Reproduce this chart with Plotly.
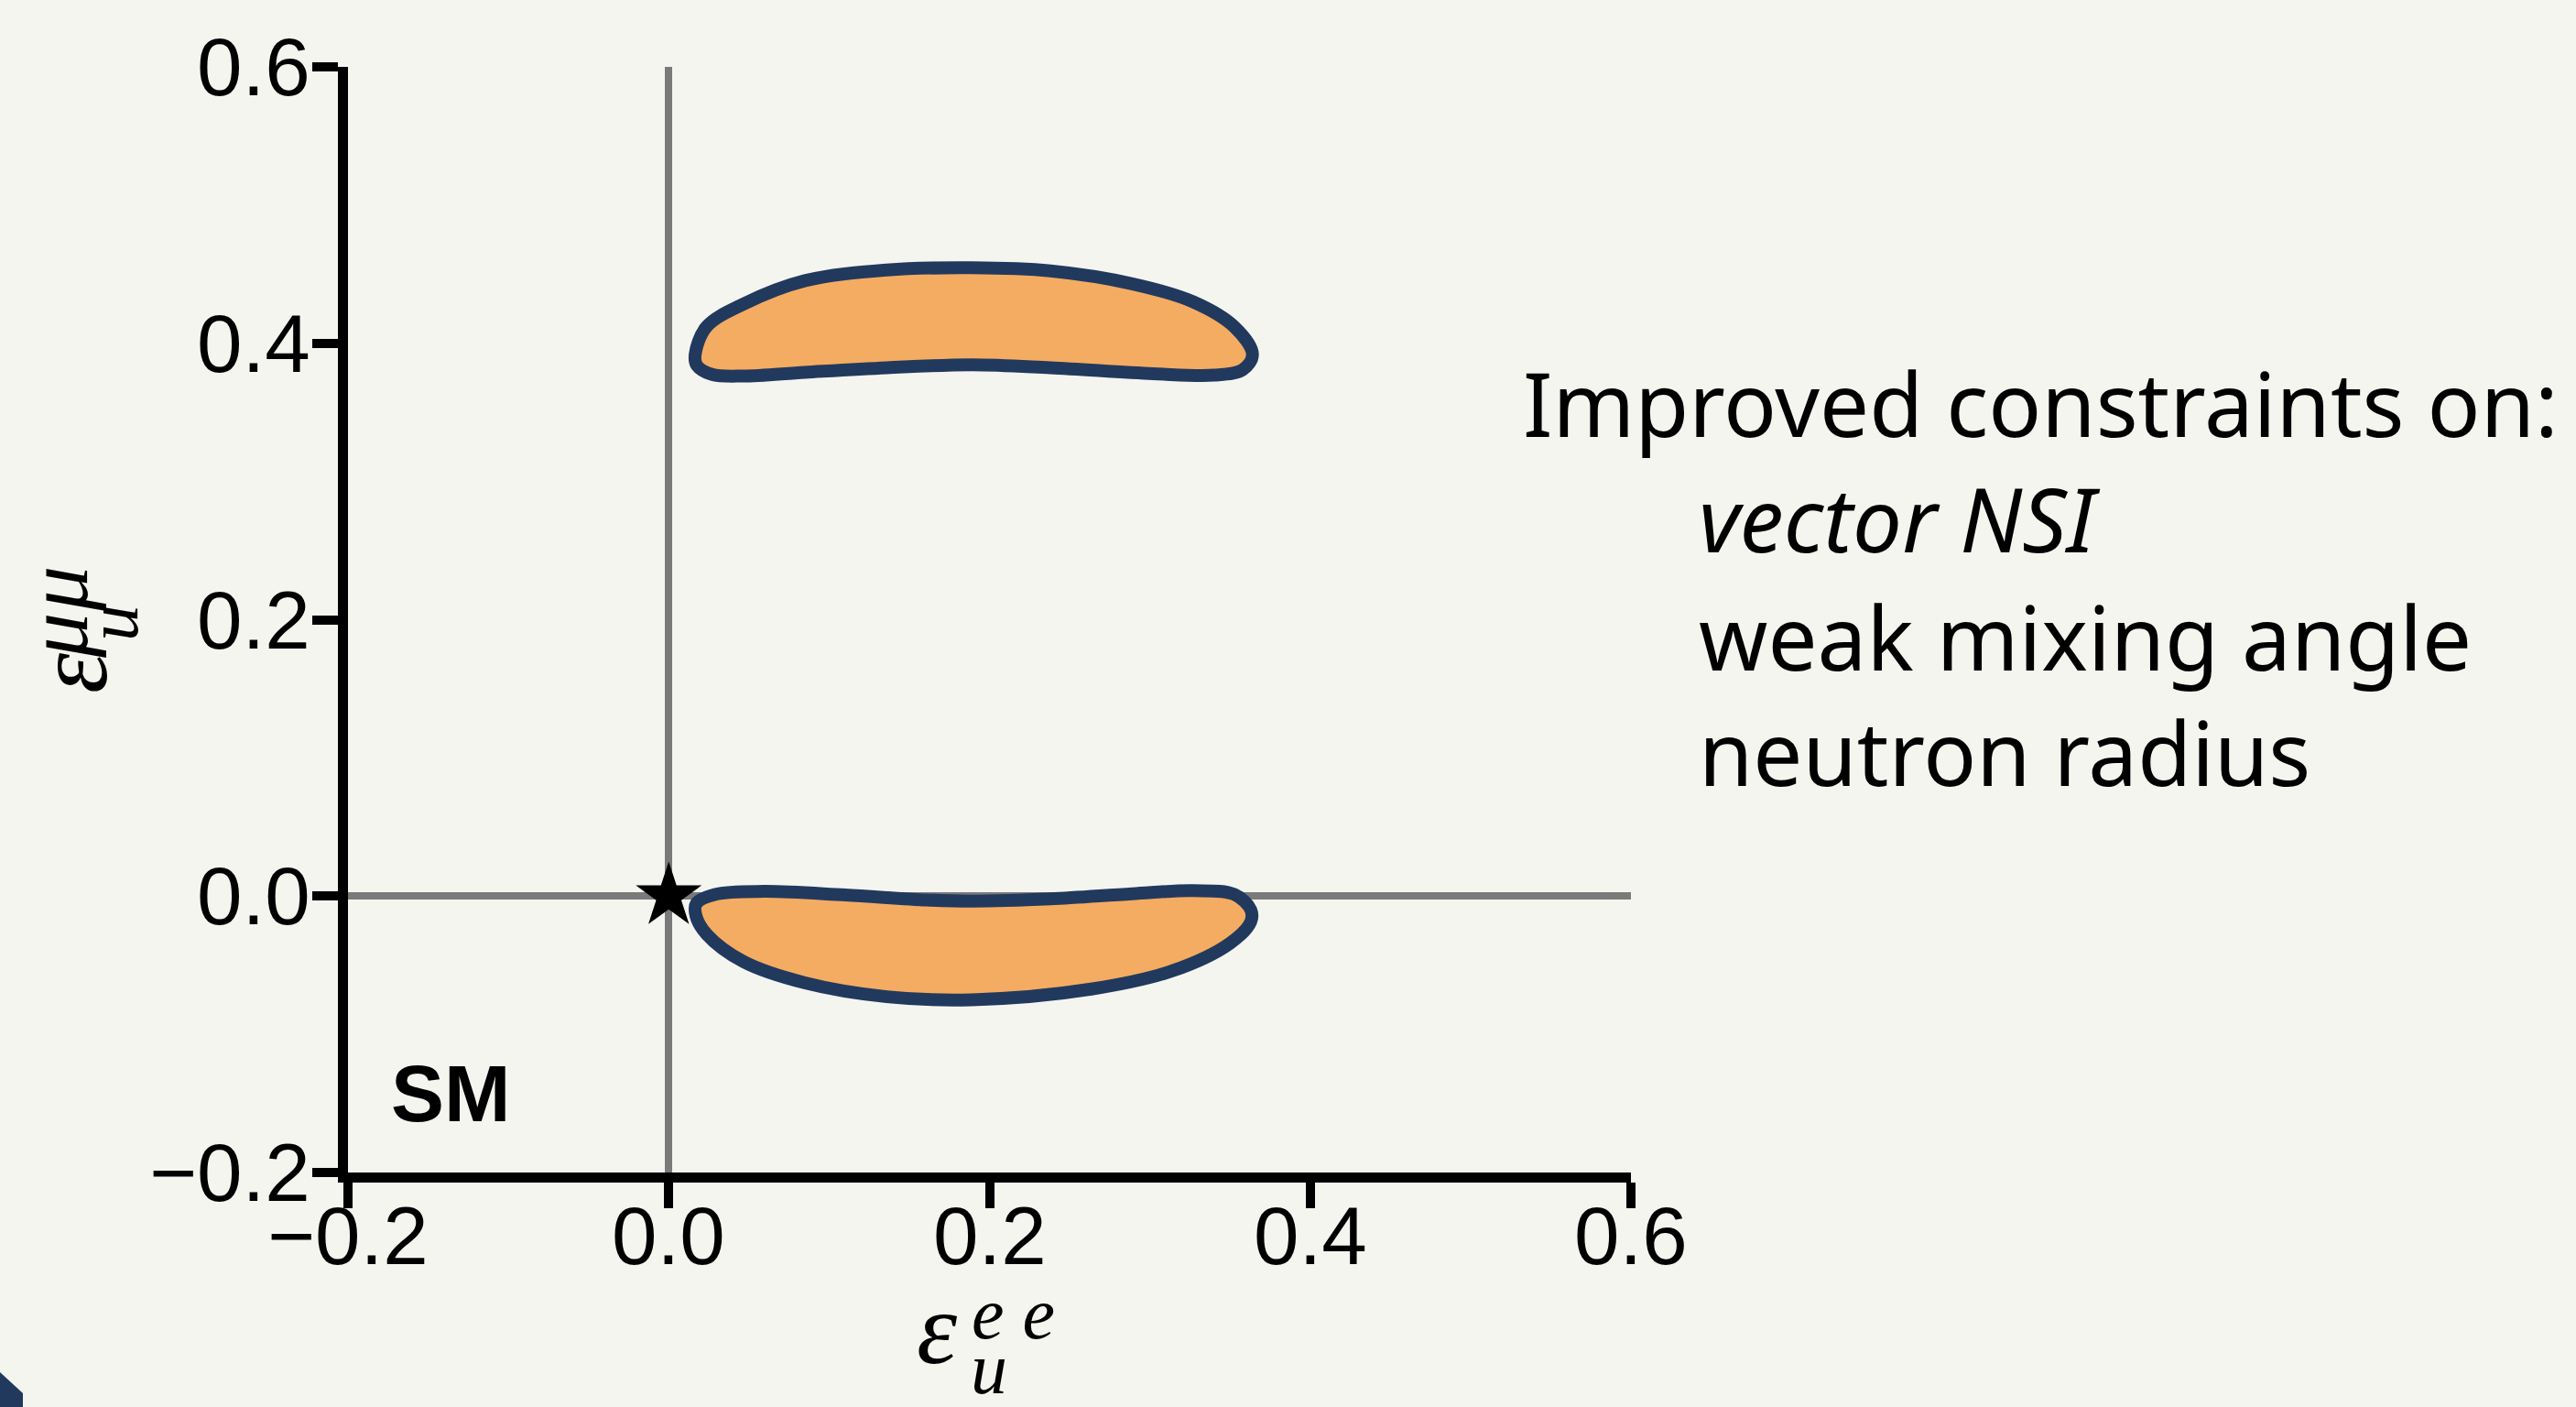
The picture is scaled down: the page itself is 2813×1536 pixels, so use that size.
import plotly.graph_objects as go

# ---------------- data ----------------
upper_x = [0.0165, 0.0236, 0.047, 0.085, 0.136, 0.189, 0.238, 0.289, 0.327, 0.3526, 0.364,
           0.358, 0.340, 0.302, 0.238, 0.189, 0.136, 0.085, 0.0466, 0.027, 0.0175, 0.0165]
upper_y = [0.392, 0.412, 0.4286, 0.4453, 0.453, 0.4546, 0.4523, 0.443, 0.430, 0.412, 0.392,
           0.381, 0.3769, 0.378, 0.3823, 0.3845, 0.3823, 0.379, 0.3763, 0.3775, 0.384, 0.392]

lower_x = [0.0172, 0.0288, 0.0594, 0.110, 0.161, 0.189, 0.238, 0.289, 0.327, 0.3527, 0.3629,
           0.3629, 0.350, 0.3143, 0.2634, 0.189, 0.136, 0.085, 0.0466, 0.0236, 0.017, 0.0172]
lower_y = [-0.0054, 0.0012, 0.0034, 0.0008, -0.0028, -0.0036, -0.002, 0.0017, 0.0039, 0.0012, -0.0098,
           -0.0187, -0.0341, -0.054, -0.0673, -0.075, -0.0728, -0.0628, -0.0474, -0.0275, -0.0142, -0.0054]

sm_x = [0.0]
sm_y = [0.0]

x_ticks = [-0.2, 0.0, 0.2, 0.4, 0.6]
y_ticks = [-0.2, 0.0, 0.2, 0.4, 0.6]

side_title = "Improved constraints on:"
side_items = ["<i>vector NSI</i>", "weak mixing angle", "neutron radius"]

# ---------------- layout geometry ----------------
W, H = 2813, 1536
L, R, T, B = 380, 1781, 73, 1280   # plot area in pixels


def px(xp):
    return (xp - L) / (R - L)


def py(yp):
    return (B - yp) / (B - T)


def fmt(v):
    s = f"{v:.1f}"
    return s.replace("-", "\u2212")


BG = "#F5F5F0"
FILL = "#F4AC62"
NAVY = "#22395E"
GRAY = "#7A7A7A"
TICKFONT = dict(family="Liberation Sans, Arial, sans-serif", size=89, color="black")

fig = go.Figure()

for xs, ys in [(upper_x, upper_y), (lower_x, lower_y)]:
    fig.add_trace(go.Scatter(
        x=xs, y=ys, mode="lines", fill="toself", fillcolor=FILL,
        line=dict(color=NAVY, width=14, shape="spline", smoothing=1.0),
        hoverinfo="skip", showlegend=False))

fig.add_trace(go.Scatter(
    x=sm_x, y=sm_y, mode="markers",
    marker=dict(symbol="star", size=54, color="black", line=dict(width=0)),
    showlegend=False))

axis_common = dict(
    showgrid=False, showline=True, linecolor="black", linewidth=11,
    ticks="outside", ticklen=28, tickwidth=10, tickcolor="black",
    zeroline=True, zerolinecolor=GRAY, zerolinewidth=8,
    showticklabels=False,
)

fig.update_xaxes(range=[-0.2, 0.6], tickvals=x_ticks, **axis_common)
fig.update_yaxes(range=[-0.2, 0.6], tickvals=y_ticks, **axis_common)

annotations = []

# tick labels
for v in x_ticks:
    annotations.append(dict(x=v, y=py(1349), xref="x", yref="paper", text=fmt(v),
                            showarrow=False, xanchor="center", yanchor="middle", font=TICKFONT))
for v in y_ticks:
    annotations.append(dict(x=px(341), y=v, xref="paper", yref="y", text=fmt(v),
                            showarrow=False, xanchor="right", yanchor="middle", font=TICKFONT))

# SM label
annotations.append(dict(x=-0.1743, y=-0.1428, xref="x", yref="y", text="<b>SM</b>",
                        showarrow=False, xanchor="left", yanchor="middle",
                        font=dict(family="Liberation Sans, Arial, sans-serif", size=87, color="black")))

serif = "Liberation Serif, Times New Roman, serif"
titles = [
    # x-axis title parts
    dict(x=px(1023), y=py(1450), text="<i>ε</i>", font=dict(family=serif, size=112, color="black")),
    dict(x=px(1106), y=py(1434), text="<i>e e</i>", font=dict(family=serif, size=80, color="black")),
    dict(x=px(1080), y=py(1494), text="<i>u</i>", font=dict(family=serif, size=80, color="black")),
    # y-axis title parts (rotated)
    dict(x=px(78), y=py(735), text="<i>ε</i>", textangle=-90, font=dict(family=serif, size=112, color="black")),
    dict(x=px(123), y=py(680), text="<i>u</i>", textangle=-90, font=dict(family=serif, size=80, color="black")),
    dict(x=px(62), y=py(694), text="<i>μ</i>", textangle=-90, font=dict(family=serif, size=98, color="black")),
    dict(x=px(62), y=py(643), text="<i>μ</i>", textangle=-90, font=dict(family=serif, size=98, color="black")),
]
for a in titles:
    a.update(xref="paper", yref="paper", showarrow=False, xanchor="center", yanchor="middle")
annotations += titles

# side text
side_font = dict(family="Noto Sans, Open Sans, sans-serif", size=96, color="black")
annotations.append(dict(x=px(1661), y=py(477 - 37), xref="paper", yref="paper", text=side_title,
                        showarrow=False, xanchor="left", yanchor="middle", font=side_font))
for i, item in enumerate(side_items):
    base = [605, 734, 860][i]
    annotations.append(dict(x=px(1853), y=py(base - 40), xref="paper", yref="paper", text=item,
                            showarrow=False, xanchor="left", yanchor="middle", font=side_font))

# decorative corner
shapes = [dict(type="path", xref="paper", yref="paper",
               path=f"M {px(0)},{py(1498)} L {px(25)},{py(1521)} L {px(25)},{py(1540)} L {px(0)},{py(1540)} Z",
               fillcolor=NAVY, line=dict(width=0), layer="above")]

fig.update_layout(
    width=W, height=H,
    margin=dict(l=L, r=W - R, t=T, b=H - B, pad=0),
    paper_bgcolor=BG, plot_bgcolor=BG,
    annotations=annotations, shapes=shapes,
    showlegend=False,
)

fig.write_html("out.html")
